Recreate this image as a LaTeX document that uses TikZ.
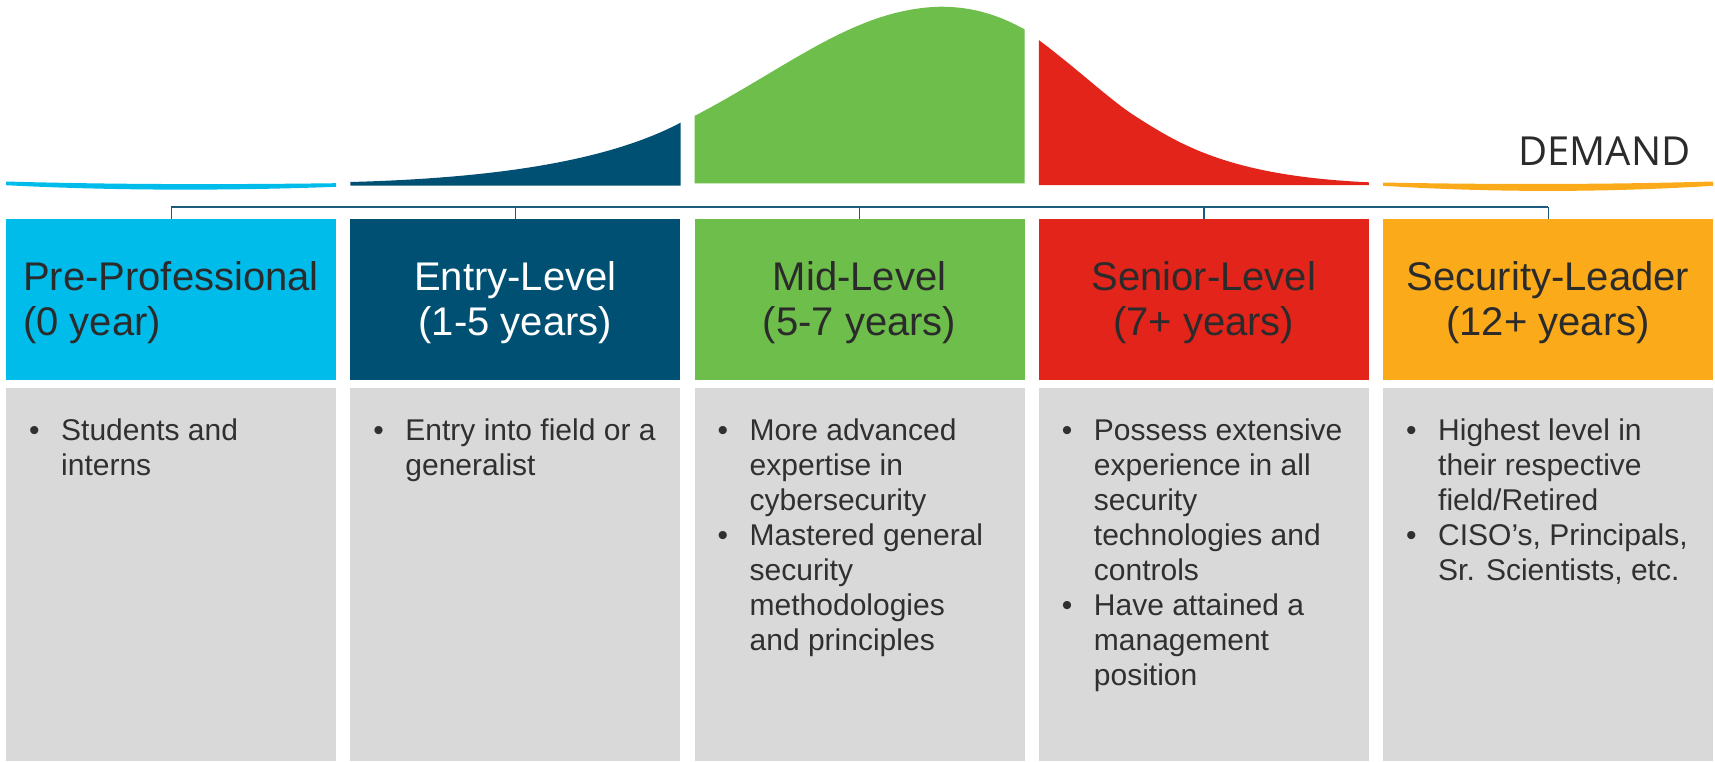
\documentclass[tikz,border=0pt]{standalone}
\usepackage{fontspec}
\setmainfont{Liberation Sans}
\newfontfamily\demandfont{Open Sans}
\definecolor{ccyan}{HTML}{00BCEB}
\definecolor{cnavy}{HTML}{005073}
\definecolor{cgreen}{HTML}{6DBE4A}
\definecolor{cred}{HTML}{E2241B}
\definecolor{corange}{HTML}{FBAB1A}
\definecolor{cgray}{HTML}{D9D9D9}
\definecolor{cline}{HTML}{1D5B7E}
\definecolor{cdark}{HTML}{2B2B2B}
\definecolor{ctext}{HTML}{303030}
\newcommand{\bul}{\makebox[32pt][l]{•}}
\begin{document}
\begin{tikzpicture}[x=1pt,y=-1pt,
  hdr/.style={rectangle, minimum width=330pt, minimum height=161pt, inner sep=0pt, anchor=north west},
  bodybox/.style={rectangle, fill=cgray, minimum width=330pt, minimum height=373pt, inner sep=0pt, anchor=north west},
  htext/.style={inner sep=0pt, anchor=base, font=\fontsize{40}{45}\selectfont},
  btext/.style={inner sep=0pt, anchor=base west, font=\fontsize{30}{35}\selectfont, text=ctext},
  barline/.style={draw=cline, line width=2pt},
  tick/.style={draw=cline, line width=1.4pt}]
\useasboundingbox (0,0) rectangle (1715,761);

% demand curve
\fill[ccyan] (6,181.5) .. controls (115,184.6) and (227,184.6) .. (336,183.2)
  -- (336,186.8) .. controls (227,190.8) and (115,190.8) .. (6,185.2) -- cycle;
\fill[cnavy] (350.25,182) .. controls (500,178) and (610,160) .. (680.5,122.7)
  -- (680.5,185.5) -- (350.25,185.5) -- cycle;
\fill[cgreen] (694.5,116) .. controls (790,66) and (855,9) .. (940,6.7)
  .. controls (975,6.7) and (1000,16) .. (1024.5,29.3)
  -- (1024.5,183.3) -- (694.5,183.3) -- cycle;
\fill[cred] (1038.75,40) .. controls (1080,71) and (1110,100) .. (1135,116)
  .. controls (1180,144.8) and (1230,176) .. (1368.75,182.3)
  -- (1368.75,185) -- (1038.75,185) -- cycle;
\fill[corange] (1383,182.5) .. controls (1493,184.6) and (1603,184.6) .. (1713,181.5)
  -- (1713,185.8) .. controls (1603,192.6) and (1493,192.6) .. (1383,185.8) -- cycle;

\node[inner sep=0pt, anchor=base west, font=\demandfont\fontsize{40}{48}\selectfont, text=cdark] (dem) at (1518,165) {DEMAND};

% header boxes
\node[hdr, fill=ccyan] (h1) at (6,219) {};
\node[hdr, fill=cnavy] (h2) at (350.25,219) {};
\node[hdr, fill=cgreen] (h3) at (694.5,219) {};
\node[hdr, fill=cred] (h4) at (1038.75,219) {};
\node[hdr, fill=corange] (h5) at (1383,219) {};

% body boxes
\node[bodybox] (b1) at (6,388) {};
\node[bodybox] (b2) at (350.25,388) {};
\node[bodybox] (b3) at (694.5,388) {};
\node[bodybox] (b4) at (1038.75,388) {};
\node[bodybox] (b5) at (1383,388) {};

% bracket
\coordinate (bar) at (0,207);
\draw[barline] (h1.north |- bar) -- (h5.north |- bar);
\draw[tick] (h1.north) -- (h1.north |- bar);
\draw[tick] (h2.north) -- (h2.north |- bar);
\draw[tick] (h3.north) -- (h3.north |- bar);
\draw[tick] (h4.north) -- (h4.north |- bar);
\draw[tick] (h5.north) -- (h5.north |- bar);

% header texts
\node[htext, text=cdark] (t1) at (171,290) {\begin{tabular}[t]{@{}l@{}}Pre-Professional\\(0 year)\end{tabular}};
\node[htext, text=white] (t2) at (515.25,290) {\begin{tabular}[t]{@{}c@{}}Entry-Level\\(1-5 years)\end{tabular}};
\node[htext, text=cdark] (t3) at (859.5,290) {\begin{tabular}[t]{@{}c@{}}Mid-Level\\(5-7 years)\end{tabular}};
\node[htext, text=cdark] (t4) at (1203.75,290) {\begin{tabular}[t]{@{}c@{}}Senior-Level\\(7+ years)\end{tabular}};
\node[htext, text=cdark] (t5) at (1548,290) {\begin{tabular}[t]{@{}c@{}}Security-Leader\\(12+ years)\end{tabular}};

% body texts
\node[btext] (d1) at (29,440) {\begin{tabular}[t]{@{}l@{}l@{}}\bul & Students and\\ & interns\end{tabular}};
\node[btext] (d2) at (373.25,440) {\begin{tabular}[t]{@{}l@{}l@{}}\bul & Entry into field or a\\ & generalist\end{tabular}};
\node[btext] (d3) at (717.5,440) {\begin{tabular}[t]{@{}l@{}l@{}}\bul & More advanced\\ & expertise in\\ & cybersecurity\\ \bul & Mastered general\\ & security\\ & methodologies\\ & and principles\end{tabular}};
\node[btext] (d4) at (1061.75,440) {\begin{tabular}[t]{@{}l@{}l@{}}\bul & Possess extensive\\ & experience in all\\ & security\\ & technologies and\\ & controls\\ \bul & Have attained a\\ & management\\ & position\end{tabular}};
\node[btext] (d5) at (1406,440) {\begin{tabular}[t]{@{}l@{}l@{}}\bul & Highest level in\\ & their respective\\ & field/Retired\\ \bul & CISO’s, Principals,\\ & Sr. Scientists, etc.\end{tabular}};
\end{tikzpicture}
\end{document}
